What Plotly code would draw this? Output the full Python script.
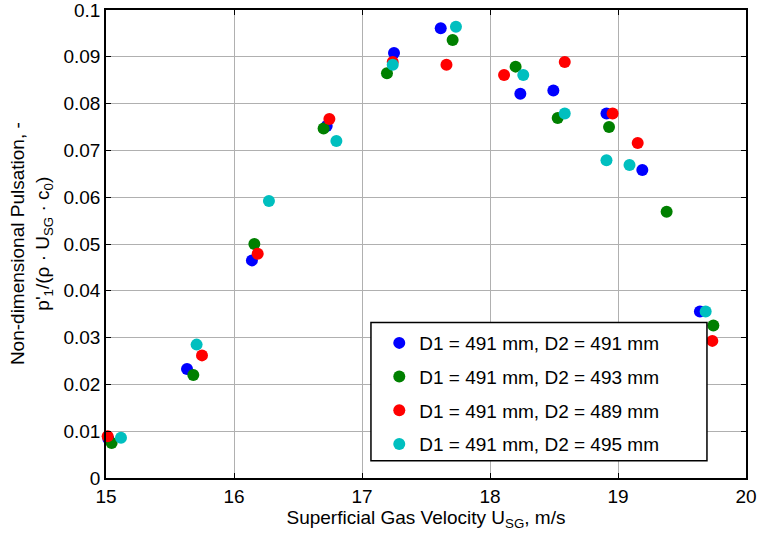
import plotly.graph_objects as go

# Superficial gas velocity (m/s) and non-dimensional pulsation per pipe configuration
u_491 = [15.018, 15.633, 16.140, 16.724, 17.250, 17.615, 18.237, 18.495, 18.910, 19.190, 19.640]
p_491 = [0.0084, 0.0233, 0.0465, 0.0752, 0.0908, 0.0961, 0.0821, 0.0828, 0.0779, 0.0658, 0.0356]

u_493 = [15.044, 15.682, 16.159, 16.700, 17.195, 17.708, 18.200, 18.529, 18.930, 19.380, 19.745]
p_493 = [0.0075, 0.0220, 0.0500, 0.0747, 0.0865, 0.0936, 0.0879, 0.0769, 0.0750, 0.0569, 0.0326]

u_489 = [15.013, 15.750, 16.185, 16.745, 17.240, 17.660, 18.110, 18.584, 18.958, 19.154, 19.737]
p_489 = [0.0089, 0.0262, 0.0479, 0.0767, 0.0889, 0.0883, 0.0861, 0.0889, 0.0779, 0.0716, 0.0293]

u_495 = [15.117, 15.708, 16.273, 16.800, 17.240, 17.734, 18.260, 18.584, 18.910, 19.090, 19.685]
p_495 = [0.0086, 0.0285, 0.0592, 0.0720, 0.0883, 0.0964, 0.0861, 0.0779, 0.0679, 0.0669, 0.0356]

labels = [
    "D1 = 491 mm, D2 = 491 mm",
    "D1 = 491 mm, D2 = 493 mm",
    "D1 = 491 mm, D2 = 489 mm",
    "D1 = 491 mm, D2 = 495 mm",
]
colors = ["#0000ff", "#008000", "#ff0000", "#00bfbf"]

x_ticks = [15, 16, 17, 18, 19, 20]
y_ticks = [0, 0.01, 0.02, 0.03, 0.04, 0.05, 0.06, 0.07, 0.08, 0.09, 0.1]
y_tick_text = ["0", "0.01", "0.02", "0.03", "0.04", "0.05", "0.06", "0.07", "0.08", "0.09", "0.1"]

series = [(u_491, p_491), (u_493, p_493), (u_489, p_489), (u_495, p_495)]

fig = go.Figure()
for i, ((u, p), name, col) in enumerate(zip(series, labels, colors)):
    fig.add_trace(go.Scatter(
        x=u, y=p, mode="markers", name=name, legendgroup=f"g{i}",
        marker=dict(color=col, size=12, line=dict(width=0)),
        cliponaxis=False,
    ))

font = "Arial, Liberation Sans, sans-serif"
fs = 19
axis_common = dict(
    showline=True, linecolor="black", linewidth=1.5, mirror="ticks",
    ticks="inside", ticklen=5, tickcolor="black",
    showgrid=True, gridcolor="#b0b0b0", gridwidth=1,
    zeroline=False, tickfont=dict(size=fs, color="black", family=font),
    ticklabeloverflow="allow", automargin=False,
)

fig.update_xaxes(
    range=[15, 20], tickvals=x_ticks, **axis_common,
    title=dict(text="Superficial Gas Velocity U<sub>SG</sub>, m/s",
               font=dict(size=fs, color="black", family=font), standoff=2),
)
fig.update_yaxes(
    range=[0, 0.1], tickvals=y_ticks, ticktext=y_tick_text, **axis_common,
)

fig.add_annotation(
    text="Non-dimensional Pulsation, -<br>p'<sub>1</sub>/(ρ · U<sub>SG</sub> · c<sub>0</sub>)",
    xref="paper", yref="paper", x=-0.117, y=0.5, xanchor="center", yanchor="middle",
    textangle=-90, showarrow=False, font=dict(size=fs, color="black", family=font),
)

# Legend frame: white box over the data area, legend entries drawn on top of it
fig.add_shape(
    type="rect", xref="paper", yref="paper",
    x0=0.414, x1=0.939, y0=0.037, y1=0.332,
    fillcolor="white", line=dict(color="black", width=1.5), layer="above",
)

fig.update_layout(
    width=758, height=535,
    margin=dict(l=106, r=12, t=10, b=57),
    paper_bgcolor="white", plot_bgcolor="white",
    font=dict(family=font, color="black"),
    showlegend=True,
    legend=dict(
        x=0.427, y=0.329, xanchor="left", yanchor="top",
        bgcolor="rgba(0,0,0,0)", borderwidth=0,
        font=dict(size=fs, color="black", family=font),
        tracegroupgap=6, itemsizing="constant",
    ),
)

fig.write_html("out.html")
